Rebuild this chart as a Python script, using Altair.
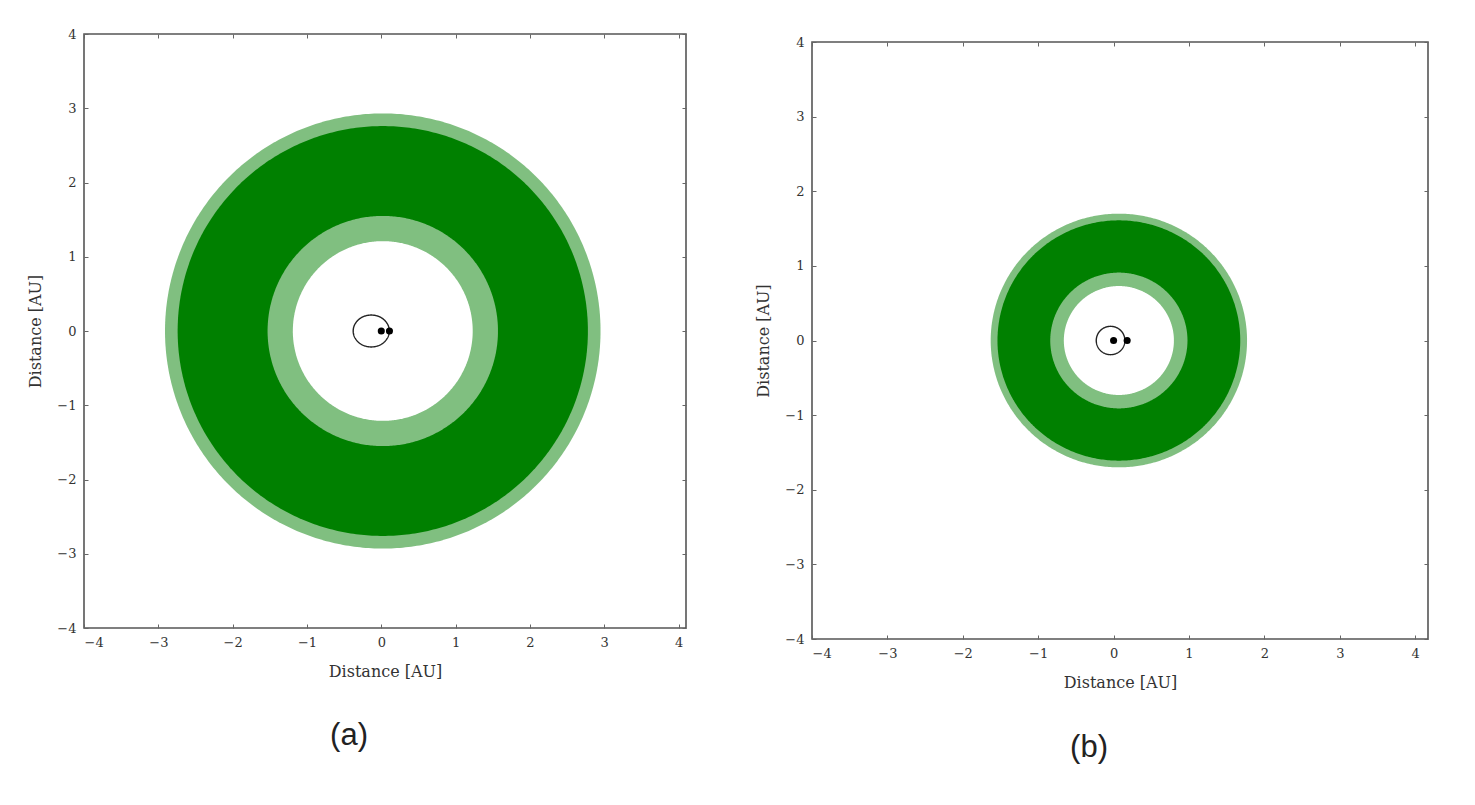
import altair as alt
import numpy as np
import pandas as pd

# ---- data ----
ticks = [-4, -3, -2, -1, 0, 1, 2, 3, 4]

# panel (a)
a_center = 0.02
a_radii = [2.93, 2.76, 1.55, 1.21]          # outer edges of stacked disks
a_orbit = {"cx": -0.135, "cy": 0.0, "rx": 0.243, "ry": 0.215}
a_stars_x = [0.0, 0.11]
a_stars_y = [0.0, 0.0]
a_xdomain = [-4, 4.1]

# panel (b)
b_center = 0.07
b_radii = [1.70, 1.61, 0.91, 0.73]
b_orbit = {"cx": -0.04, "cy": 0.0, "rx": 0.19, "ry": 0.19}
b_stars_x = [0.0, 0.18]
b_stars_y = [0.0, 0.0]
b_xdomain = [-4, 4.17]

ydomain = [-4, 4]
disk_colors = ["#80bf80", "#008000", "#80bf80", "#ffffff"]

SERIF = "DejaVu Serif"
SANS = "Liberation Sans"


def disk_df(cx, r, n=241):
    t = np.linspace(np.pi, 0, n)
    x = cx + r * np.cos(t)
    h = r * np.sin(t)
    return pd.DataFrame({"x": x, "y": h, "y2": -h})


def orbit_df(o, n=181):
    t = np.linspace(0, 2 * np.pi, n)
    return pd.DataFrame({"x": o["cx"] + o["rx"] * np.cos(t),
                         "y": o["cy"] + o["ry"] * np.sin(t),
                         "i": np.arange(n)})


def axis_main(orient):
    return alt.Axis(orient=orient, values=ticks, format="d", grid=False, domain=False,
                    tickSize=4, offset=-4, tickColor="#666", tickWidth=1,
                    labelFont=SERIF, labelFontSize=13, labelColor="#333",
                    labelPadding=8, title="Distance [AU]", titleFont=SERIF,
                    titleFontSize=16, titleFontWeight="normal", titleColor="#333",
                    titlePadding=13 if orient == "left" else 14)


def axis_mirror(orient):
    return alt.Axis(orient=orient, values=ticks, grid=False, domain=False,
                    tickSize=4, offset=-4, tickColor="#666", tickWidth=1,
                    labels=False, title=None)


def panel(center, radii, orbit, sx, sy, xdomain, w, h, label, dx, off):
    xs = alt.Scale(domain=xdomain, nice=False, zero=False)
    ys = alt.Scale(domain=ydomain, nice=False, zero=False)
    layers = []
    for i, (r, c) in enumerate(zip(radii, disk_colors)):
        if i == 0:
            xe = alt.X("x:Q", scale=xs, axis=axis_main("bottom"))
            ye = alt.Y("y:Q", scale=ys, axis=axis_main("left"))
        else:
            xe = alt.X("x:Q", scale=xs, axis=None)
            ye = alt.Y("y:Q", scale=ys, axis=None)
        layers.append(
            alt.Chart(disk_df(center, r)).mark_area(color=c, opacity=1, interpolate="linear")
            .encode(x=xe, y=ye, y2="y2:Q")
        )
    layers.append(
        alt.Chart(orbit_df(orbit)).mark_line(color="#222", strokeWidth=1.4)
        .encode(x=alt.X("x:Q", scale=xs, axis=None),
                y=alt.Y("y:Q", scale=ys, axis=None),
                order="i:Q")
    )
    layers.append(
        alt.Chart(pd.DataFrame({"x": sx, "y": sy})).mark_circle(color="black", size=50, opacity=1)
        .encode(x=alt.X("x:Q", scale=xs, axis=axis_mirror("top")),
                y=alt.Y("y:Q", scale=ys, axis=axis_mirror("right")))
    )
    return alt.layer(*layers).resolve_axis(x="independent", y="independent").properties(
        width=w, height=h,
        title=alt.TitleParams(label, orient="bottom", font=SANS, fontSize=31,
                              fontWeight="normal", color="#222", offset=off, dx=dx,
                              anchor="middle"),
    )


pa = panel(a_center, a_radii, a_orbit, a_stars_x, a_stars_y, a_xdomain, 602, 594, "(a)", -36, 42)
pb = panel(b_center, b_radii, b_orbit, b_stars_x, b_stars_y, b_xdomain, 616, 597, "(b)", -31, 43)

# panel (b) sits a little lower in the source figure: an invisible 1-px strip above it
spacer = alt.Chart(pd.DataFrame({"v": [0]})).mark_point(opacity=0).encode(
    x=alt.value(0), y=alt.value(0)
).properties(width=616, height=1, view=alt.ViewBackground(stroke="transparent"))

pb_group = alt.vconcat(spacer, pb, spacing=-3)

chart = alt.hconcat(pa, pb_group, spacing=67).properties(
    padding={"left": 19, "top": 19, "right": 5, "bottom": 5},
    background="white",
).configure_view(stroke="#555", strokeWidth=1.6)

chart.save("out.html", embed_options={"renderer": "svg", "actions": False})
